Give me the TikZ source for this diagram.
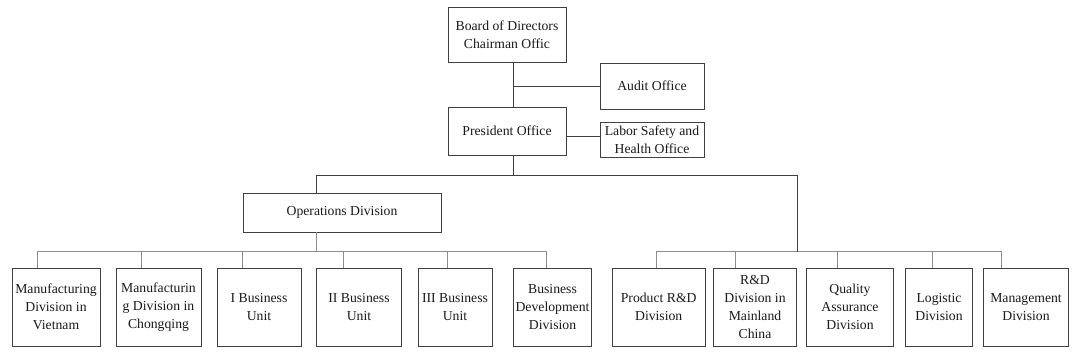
\documentclass[tikz,border=0pt]{standalone}
\usepackage{fontspec}
\setmainfont{Liberation Serif}
\usetikzlibrary{positioning}
\definecolor{orgInk}{HTML}{1A1A1A}
\definecolor{orgLine}{HTML}{3F3F3F}
\definecolor{orgBus}{HTML}{8E8E8E}
\tikzset{
  org chart/.style={font=\fontsize{13.7}{17.8}\selectfont, text=orgInk,
    line cap=rect},
  org box/.style={draw=orgLine, fill=white, line width=0.8pt,
    align=center, inner sep=1pt},
  org unit/.style={org box, minimum height=78pt},
  org link/.style={draw=orgLine, line width=0.8pt},
  org bus/.style={draw=orgBus, line width=0.8pt}
}

\begin{document}
\begin{tikzpicture}[org chart,x=1pt,y=-1pt]
\useasboundingbox (0,0) rectangle (1074,357);
% head office
\node[org box,minimum width=118pt,minimum height=55pt] (board) at (507,34.5) {Board of Directors\\Chairman Offic};
\node[org box,minimum width=104pt,minimum height=46pt] (audit) at (652,86) {Audit Office};
\node[org box,minimum width=118pt,minimum height=48pt] (pres) at (507,131) {President Office};
\node[org box,minimum width=104pt,minimum height=35pt] (labor) at (652,139.5) {Labor Safety and\\Health Office};
\node[org box,minimum width=198pt,minimum height=39pt] (ops) at (342,212.5) {Operations Division};
\coordinate (trunk) at (513.5,0);
\coordinate (opsdrop) at (316.7,175);
\coordinate (rdrop) at (797.3,175);
\draw[org link] (board.south -| trunk) -- (pres.north -| trunk);
\draw[org link] (trunk |- audit.west) -- (audit.west);
\draw[org link] ([yshift=-5pt]pres.east) -- ([yshift=-5pt]pres.east -| labor.west);
\draw[org link] (pres.south -| trunk) -- (trunk |- opsdrop);
\draw[org link] (ops.north -| opsdrop) -- (opsdrop) -- (rdrop);
% divisions and units
\foreach \name/\cx/\w/\dx/\txt in {
  mvn/56/88/37.3/{Manufacturing\\Division in\\Vietnam},
  mcq/158.5/85/141.7/{Manufacturin\\g Division in\\Chongqing},
  bu1/259/84/242.7/{I Business\\Unit},
  bu2/359/85/343.3/{II Business\\Unit},
  bu3/455/74/447.3/{III Business\\Unit},
  bdd/552.5/78/546.7/{Business\\Development\\Division},
  prd/658.7/93/656.7/{Product R\&D\\Division},
  rdc/755/83/735.7/{R\&D\\Division in\\Mainland\\China},
  qad/850/87/837.7/{Quality\\Assurance\\Division},
  lgd/939/67/932.7/{Logistic\\Division},
  mgd/1026/85/1001/{Management\\Division}}{
  \node[org unit,minimum width=\w pt] (\name) at (\cx,307) {\txt};
  \coordinate (d\name) at (\dx,251.7);
  \draw[org bus] (d\name) -- (\name.north -| d\name);
}
\draw[org bus] (dmvn) -- (dbdd);
\draw[org bus] (dprd) -- (dmgd);
\draw[org bus] (ops.south -| opsdrop) -- (opsdrop |- dmvn);
\draw[org link] (rdrop) -- (rdrop |- dprd);
\end{tikzpicture}
\end{document}
